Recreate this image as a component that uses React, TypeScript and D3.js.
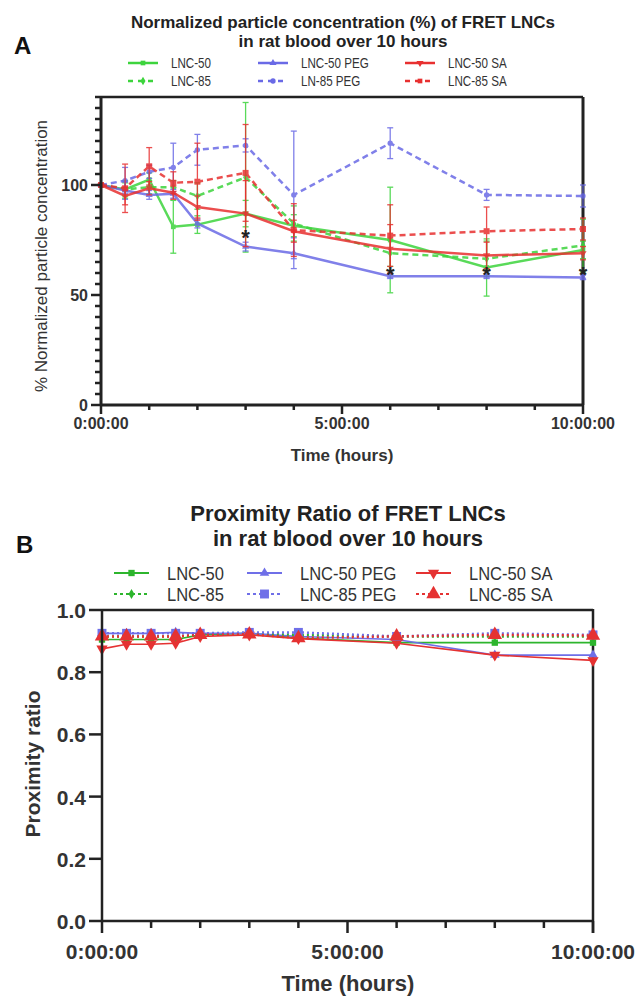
import React from "react";
import * as d3 from "d3";

// ---------- data ----------
const TIMES = [0, 0.5, 1, 1.5, 2, 3, 4, 6, 8, 10];

// Panel A: normalized particle concentration (%)
const A_LNC50 = [100, 98, 102.5, 81, 82, 87, 81.5, 75, 62.5, 70.5];
const A_LNC85 = [100, 98, 99, 99, 95, 103.5, 82.5, 69, 66.5, 72.5];
const A_LNC50PEG = [100, 97.5, 95.5, 96, 82.5, 72, 69, 58.5, 58.5, 58];
const A_LN85PEG = [100, 102, 106, 108, 116, 118, 95.5, 119, 95.5, 95];
const A_LNC50SA = [100, 95, 98.5, 96.5, 90, 87, 79, 71, 68, 69];
const A_LNC85SA = [100, 98.5, 108.5, 101, 101.5, 105.5, 79.5, 77, 79, 80];

const A_LNC50_SD = [0, 3, 3, 12, 4, 6, 5, 24, 13, 4];
const A_LNC85_SD = [0, 4, 3, 3, 6, 34, 8, 6, 8, 12];
const A_LNC50PEG_SD = [0, 4, 2, 2, 2, 2, 7, 1, 1, 1];
const A_LN85PEG_SD = [0, 6, 3, 11, 7, 3, 29, 7, 2.5, 5];
const A_LNC50SA_SD = [0, 4, 3, 3, 5, 15, 5, 11, 6, 3];
const A_LNC85SA_SD = [0, 11, 8.5, 5, 17.5, 22, 12, 14, 11, 5];

const A_STAR_TIMES = [3, 6, 8, 10];
const A_STAR_VALUES = [78, 61.5, 61.5, 61.5];

const A_Y_TICKS = [0, 50, 100];
const X_TICK_LABELS = ["0:00:00", "5:00:00", "10:00:00"];
const X_MAJOR = [0, 5, 10];

// Panel B: proximity ratio
const B_LNC50 = [0.905, 0.905, 0.905, 0.905, 0.92, 0.925, 0.91, 0.895, 0.895, 0.895];
const B_LNC85 = [0.915, 0.915, 0.915, 0.915, 0.92, 0.925, 0.92, 0.915, 0.915, 0.915];
const B_LNC50PEG = [0.925, 0.925, 0.925, 0.928, 0.925, 0.925, 0.915, 0.905, 0.855, 0.855];
const B_LNC85PEG = [0.925, 0.925, 0.925, 0.925, 0.925, 0.928, 0.928, 0.915, 0.925, 0.92];
const B_LNC50SA = [0.875, 0.89, 0.89, 0.893, 0.915, 0.92, 0.908, 0.893, 0.855, 0.838];
const B_LNC85SA = [0.915, 0.915, 0.915, 0.915, 0.92, 0.922, 0.91, 0.915, 0.92, 0.918];

const B_Y_TICKS = [0, 0.2, 0.4, 0.6, 0.8, 1.0];

const GREEN_A = "#3dd43d";
const BLUE_A = "#6a6ae6";
const RED_A = "#e83030";
const GREEN_B = "#2db52d";
const BLUE_B = "#6f6fe8";
const RED_B = "#e53232";

const BOLD = "'Liberation Sans', Arial, Helvetica, sans-serif";

type Shape = "circle" | "square" | "triUp" | "triDown" | "diamond";

function symPath(shape: Shape, size: number) {
  const t =
    shape === "circle" ? d3.symbolCircle :
    shape === "square" ? d3.symbolSquare :
    shape === "diamond" ? d3.symbolDiamond : d3.symbolTriangle;
  return d3.symbol().type(t).size(size)() as string;
}

function Marker({ x, y, shape, size, color }: { x: number; y: number; shape: Shape; size: number; color: string }) {
  const rot = shape === "triDown" ? 180 : 0;
  return <path d={symPath(shape, size)} transform={`translate(${x},${y}) rotate(${rot})`} fill={color} />;
}

// ---------- series ----------
const A_SERIES = [
  { name: "LNC-50", vals: A_LNC50, sd: A_LNC50_SD, color: GREEN_A, dash: "", shape: "square" as Shape },
  { name: "LNC-85", vals: A_LNC85, sd: A_LNC85_SD, color: GREEN_A, dash: "6,4", shape: "diamond" as Shape },
  { name: "LNC-50 PEG", vals: A_LNC50PEG, sd: A_LNC50PEG_SD, color: BLUE_A, dash: "", shape: "triUp" as Shape },
  { name: "LN-85 PEG", vals: A_LN85PEG, sd: A_LN85PEG_SD, color: BLUE_A, dash: "6,4", shape: "circle" as Shape },
  { name: "LNC-50 SA", vals: A_LNC50SA, sd: A_LNC50SA_SD, color: RED_A, dash: "", shape: "triDown" as Shape },
  { name: "LNC-85 SA", vals: A_LNC85SA, sd: A_LNC85SA_SD, color: RED_A, dash: "6,4", shape: "square" as Shape },
];

const B_SERIES = [
  { name: "LNC-50", vals: B_LNC50, color: GREEN_B, dash: "", shape: "square" as Shape, size: 40 },
  { name: "LNC-50 PEG", vals: B_LNC50PEG, color: BLUE_B, dash: "", shape: "triUp" as Shape, size: 40 },
  { name: "LNC-50 SA", vals: B_LNC50SA, color: RED_B, dash: "", shape: "triDown" as Shape, size: 55 },
  { name: "LNC-85", vals: B_LNC85, color: GREEN_B, dash: "2,3", shape: "diamond" as Shape, size: 30 },
  { name: "LNC-85 PEG", vals: B_LNC85PEG, color: BLUE_B, dash: "2,3", shape: "square" as Shape, size: 80 },
  { name: "LNC-85 SA", vals: B_LNC85SA, color: RED_B, dash: "2,3", shape: "triUp" as Shape, size: 90 },
];

function PanelA() {
  const x = d3.scaleLinear().domain([0, 10]).range([101, 583]);
  const y = d3.scaleLinear().domain([0, 140]).range([405, 97]);
  const minorY = d3.range(0, 141, 5);
  const minorX = d3.range(0, 11, 1);

  const legendCols = [128, 258, 405];
  const legendRows = [63, 81];
  const legendOrder = [
    [A_SERIES[0], A_SERIES[2], A_SERIES[4]],
    [A_SERIES[1], A_SERIES[3], A_SERIES[5]],
  ];

  return (
    <g>
      <text x={14} y={54} fontFamily={BOLD} fontWeight="bold" fontSize={24} fill="#111">A</text>
      <text x={343} y={28} textAnchor="middle" fontFamily={BOLD} fontWeight="bold" fontSize={17} fill="#222">
        Normalized particle concentration (%) of FRET LNCs
      </text>
      <text x={343} y={47} textAnchor="middle" fontFamily={BOLD} fontWeight="bold" fontSize={17} fill="#222">
        in rat blood over 10 hours
      </text>

      {legendOrder.map((row, ri) =>
        row.map((s, ci) => {
          const lx = legendCols[ci];
          const ly = legendRows[ri];
          return (
            <g key={`la${ri}${ci}`}>
              <line x1={lx} x2={lx + 30} y1={ly} y2={ly} stroke={s.color} strokeWidth={2.5} strokeDasharray={s.dash ? "5,5" : undefined} />
              <Marker x={lx + 15} y={ly} shape={s.shape} size={22} color={s.color} />
              <text transform={`translate(${lx + 43},${ly + 5}) scale(0.83,1)`} fontFamily={BOLD} fontSize={14} fill="#333">{s.name}</text>
            </g>
          );
        })
      )}

      {/* frame */}
      <line x1={101} x2={583} y1={97} y2={97} stroke="#222" strokeWidth={2.5} />
      <line x1={583} x2={583} y1={97} y2={405} stroke="#222" strokeWidth={3} />

      {/* series */}
      {A_SERIES.map((s, si) => {
        const line = d3.line<number>().x((_, i) => x(TIMES[i])).y((v) => y(v));
        return (
          <g key={`as${si}`} opacity={0.85}>
            {s.vals.map((v, i) =>
              s.sd[i] > 0 ? (
                <g key={i}>
                  <line x1={x(TIMES[i])} x2={x(TIMES[i])} y1={y(v + s.sd[i])} y2={y(v - s.sd[i])} stroke={s.color} strokeWidth={1.3} />
                  <line x1={x(TIMES[i]) - 3} x2={x(TIMES[i]) + 3} y1={y(v + s.sd[i])} y2={y(v + s.sd[i])} stroke={s.color} strokeWidth={1.3} />
                  <line x1={x(TIMES[i]) - 3} x2={x(TIMES[i]) + 3} y1={y(v - s.sd[i])} y2={y(v - s.sd[i])} stroke={s.color} strokeWidth={1.3} />
                </g>
              ) : null
            )}
            <path d={line(s.vals) as string} fill="none" stroke={s.color} strokeWidth={2.5} strokeDasharray={s.dash || undefined} />
            {s.vals.map((v, i) => (
              <Marker key={`m${i}`} x={x(TIMES[i])} y={y(v)} shape={s.shape} size={s.shape === "square" && s.dash ? 36 : 22} color={s.color} />
            ))}
          </g>
        );
      })}

      {/* asterisks */}
      {A_STAR_TIMES.map((t, i) => (
        <text key={`st${i}`} x={x(t)} y={y(A_STAR_VALUES[i]) + 12} textAnchor="middle" fontFamily={BOLD} fontWeight="bold" fontSize={22} fill="#222">*</text>
      ))}

      {/* y axis */}
      <line x1={101} x2={101} y1={97} y2={406} stroke="#222" strokeWidth={3} />
      {minorY.map((v) => (
        <line key={`my${v}`} x1={A_Y_TICKS.includes(v) ? 91 : 95} x2={101} y1={y(v)} y2={y(v)} stroke="#222" strokeWidth={2.5} />
      ))}
      {A_Y_TICKS.map((v) => (
        <text key={`yl${v}`} x={88} y={y(v) + 6} textAnchor="end" fontFamily={BOLD} fontWeight="bold" fontSize={16} fill="#333">{v}</text>
      ))}
      <text transform={`translate(47,256) rotate(-90)`} textAnchor="middle" fontFamily={BOLD} fontSize={17} fill="#333">
        % Normalized particle concentration
      </text>

      {/* x axis */}
      <line x1={100} x2={584} y1={405} y2={405} stroke="#222" strokeWidth={3} />
      {minorX.map((t) => (
        <line key={`mx${t}`} x1={x(t)} x2={x(t)} y1={405} y2={X_MAJOR.includes(t) ? 414 : 410} stroke="#222" strokeWidth={2.5} />
      ))}
      {X_MAJOR.map((t, i) => (
        <text key={`xl${t}`} x={x(t)} y={429} textAnchor="middle" fontFamily={BOLD} fontWeight="bold" fontSize={16} fill="#333">{X_TICK_LABELS[i]}</text>
      ))}
      <text x={342} y={461} textAnchor="middle" fontFamily={BOLD} fontWeight="bold" fontSize={17} fill="#333">Time (hours)</text>
    </g>
  );
}

function PanelB() {
  const x = d3.scaleLinear().domain([0, 10]).range([102, 593]);
  const y = d3.scaleLinear().domain([0, 1]).range([921, 610]);
  const minorX = d3.range(0, 11, 1);

  const legendCols = [114, 247, 416];
  const legendRows = [573, 594];

  return (
    <g>
      <text x={16} y={553} fontFamily={BOLD} fontWeight="bold" fontSize={24} fill="#111">B</text>
      <text x={348} y={521} textAnchor="middle" fontFamily={BOLD} fontWeight="bold" fontSize={22} fill="#222">
        Proximity Ratio of FRET LNCs
      </text>
      <text x={348} y={546} textAnchor="middle" fontFamily={BOLD} fontWeight="bold" fontSize={22} fill="#222">
        in rat blood over 10 hours
      </text>

      {B_SERIES.map((s, k) => {
        const ci = k % 3;
        const ri = Math.floor(k / 3);
        const lx = legendCols[ci];
        const ly = legendRows[ri];
        return (
          <g key={`lb${k}`}>
            <line x1={lx} x2={lx + 35} y1={ly} y2={ly} stroke={s.color} strokeWidth={1.8} strokeDasharray={s.dash ? "3,3" : undefined} />
            <Marker x={lx + 17.5} y={ly} shape={s.shape} size={s.size} color={s.color} />
            <text transform={`translate(${lx + 53},${ly + 7}) scale(0.87,1)`} fontFamily={BOLD} fontSize={19} fill="#333">{s.name}</text>
          </g>
        );
      })}

      {/* frame */}
      <line x1={102} x2={593} y1={610} y2={610} stroke="#222" strokeWidth={2.5} />
      <line x1={593} x2={593} y1={609} y2={933} stroke="#222" strokeWidth={2.5} />

      {B_SERIES.map((s, si) => {
        const line = d3.line<number>().x((_, i) => x(TIMES[i])).y((v) => y(v));
        return (
          <g key={`bs${si}`}>
            <path d={line(s.vals) as string} fill="none" stroke={s.color} strokeWidth={s.dash ? 2.5 : 1.6} strokeDasharray={s.dash || undefined} />
            {s.vals.map((v, i) => (
              <Marker key={`m${i}`} x={x(TIMES[i])} y={y(v)} shape={s.shape} size={s.size} color={s.color} />
            ))}
          </g>
        );
      })}

      {/* y axis */}
      <line x1={102} x2={102} y1={609} y2={922} stroke="#222" strokeWidth={2.5} />
      {B_Y_TICKS.map((v) => (
        <g key={`by${v}`}>
          <line x1={89} x2={102} y1={y(v)} y2={y(v)} stroke="#222" strokeWidth={2.5} />
          <text x={86} y={y(v) + 8} textAnchor="end" fontFamily={BOLD} fontWeight="bold" fontSize={21} fill="#333">{v.toFixed(1)}</text>
        </g>
      ))}
      <text transform={`translate(40,764) rotate(-90)`} textAnchor="middle" fontFamily={BOLD} fontWeight="bold" fontSize={21} fill="#333">
        Proximity ratio
      </text>

      {/* x axis */}
      <line x1={101} x2={594} y1={921} y2={921} stroke="#222" strokeWidth={2.5} />
      {minorX.map((t) => (
        <line key={`bmx${t}`} x1={x(t)} x2={x(t)} y1={921} y2={X_MAJOR.includes(t) ? 933 : 928} stroke="#222" strokeWidth={2.5} />
      ))}
      {X_MAJOR.map((t, i) => (
        <text key={`bxl${t}`} x={x(t)} y={959} textAnchor="middle" fontFamily={BOLD} fontWeight="bold" fontSize={21} fill="#333">{X_TICK_LABELS[i]}</text>
      ))}
      <text x={348} y={991} textAnchor="middle" fontFamily={BOLD} fontWeight="bold" fontSize={22} fill="#333">Time (hours)</text>
    </g>
  );
}

export default function App() {
  return (
    <svg width={640} height={997} style={{ position: "absolute", left: 0, top: 0, background: "#fff" }}>
      <rect x={0} y={0} width={640} height={997} fill="#fff" />
      <PanelA />
      <PanelB />
    </svg>
  );
}
